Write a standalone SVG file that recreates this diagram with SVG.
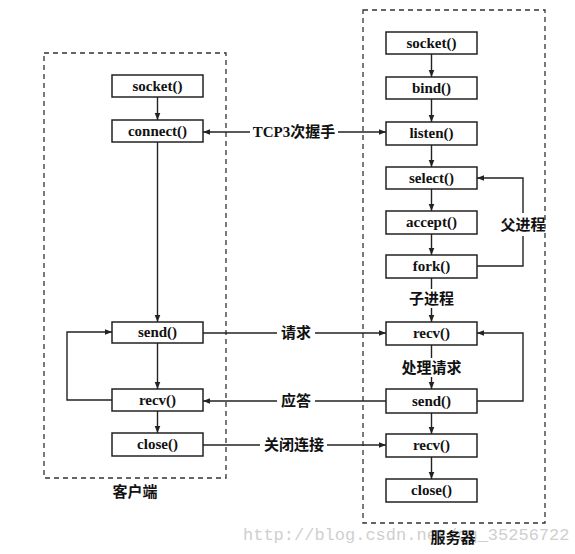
<svg xmlns="http://www.w3.org/2000/svg" width="575" height="554" viewBox="0 0 575 554">
<style>
.frame{fill:none;stroke:#333;stroke-width:1.3;stroke-dasharray:5 4}
.box{fill:#fff;stroke:#222;stroke-width:1.5}
.lbl{font-family:"Liberation Serif","Noto Sans CJK SC",serif;font-size:15px;font-weight:bold;fill:#111;text-anchor:middle}
.cjk{font-family:"Liberation Serif","Noto Sans CJK SC",serif;font-size:15px;font-weight:bold;fill:#111;text-anchor:middle}
.ln{fill:none;stroke:#222;stroke-width:1.4}
.wm{font-family:"Liberation Mono",monospace;font-size:17px;fill:#cfcfcf}
</style>
<defs>
<marker id="ah" viewBox="0 0 10 10" refX="10" refY="5" markerWidth="7" markerHeight="7" orient="auto-start-reverse" markerUnits="userSpaceOnUse">
<path d="M0,1 L10,5 L0,9 z" fill="#222"/>
</marker>
</defs>
<rect width="575" height="554" fill="#fff"/>
<text class="wm" x="243" y="540">http://blog.csdn.net/qq_35256722</text>

<g id="client">
<rect class="frame" x="44" y="53" width="182" height="425"/>
<text class="cjk" x="135" y="497">客户端</text>
</g>
<g id="server">
<rect class="frame" x="363" y="10" width="182" height="513"/>
<text class="cjk" x="453" y="543">服务器</text>
</g>

<g id="connectors">
<line class="ln" x1="157.5" y1="97" x2="157.5" y2="120" marker-end="url(#ah)"/>
<line class="ln" x1="157.5" y1="142" x2="157.5" y2="322" marker-end="url(#ah)"/>
<line class="ln" x1="157.5" y1="343" x2="157.5" y2="389" marker-end="url(#ah)"/>
<line class="ln" x1="157.5" y1="411" x2="157.5" y2="433" marker-end="url(#ah)"/>
<path class="ln" d="M112,400 H67 V332 H112" marker-end="url(#ah)"/>

<line class="ln" x1="431.5" y1="54" x2="431.5" y2="77" marker-end="url(#ah)"/>
<line class="ln" x1="431.5" y1="99" x2="431.5" y2="122" marker-end="url(#ah)"/>
<line class="ln" x1="431.5" y1="145" x2="431.5" y2="167" marker-end="url(#ah)"/>
<line class="ln" x1="431.5" y1="189" x2="431.5" y2="211" marker-end="url(#ah)"/>
<line class="ln" x1="431.5" y1="234" x2="431.5" y2="255" marker-end="url(#ah)"/>
<line class="ln" x1="431.5" y1="278" x2="431.5" y2="289"/>
<line class="ln" x1="431.5" y1="308" x2="431.5" y2="322" marker-end="url(#ah)"/>
<line class="ln" x1="431.5" y1="345" x2="431.5" y2="358"/>
<line class="ln" x1="431.5" y1="377" x2="431.5" y2="389" marker-end="url(#ah)"/>
<line class="ln" x1="431.5" y1="413" x2="431.5" y2="434" marker-end="url(#ah)"/>
<line class="ln" x1="431.5" y1="457" x2="431.5" y2="479" marker-end="url(#ah)"/>

<path class="ln" d="M477,266 H523 V236"/>
<path class="ln" d="M523,213 V178 H477" marker-end="url(#ah)"/>
<path class="ln" d="M477,401 H523 V333 H477" marker-end="url(#ah)"/>

<line class="ln" x1="250" y1="132" x2="203" y2="132" marker-end="url(#ah)"/>
<line class="ln" x1="338" y1="132" x2="386" y2="132" marker-end="url(#ah)"/>
<line class="ln" x1="203" y1="333" x2="277" y2="333"/>
<line class="ln" x1="315" y1="333" x2="386" y2="333" marker-end="url(#ah)"/>
<line class="ln" x1="386" y1="401" x2="315" y2="401"/>
<line class="ln" x1="277" y1="401" x2="203" y2="401" marker-end="url(#ah)"/>
<line class="ln" x1="203" y1="445" x2="260" y2="445"/>
<line class="ln" x1="327" y1="445" x2="386" y2="445" marker-end="url(#ah)"/>

<text class="cjk" x="294" y="137">TCP3次握手</text>
<text class="cjk" x="296" y="338">请求</text>
<text class="cjk" x="296" y="406">应答</text>
<text class="cjk" x="294" y="450">关闭连接</text>
<text class="cjk" x="523" y="230">父进程</text>
<text class="cjk" x="431.5" y="304">子进程</text>
<text class="cjk" x="431.5" y="373">处理请求</text>
</g>

<g id="c_socket"><rect class="box" x="112" y="75" width="91" height="22"/><text class="lbl" x="157.5" y="91">socket()</text></g>
<g id="c_connect"><rect class="box" x="112" y="120" width="91" height="22"/><text class="lbl" x="157.5" y="136">connect()</text></g>
<g id="c_send"><rect class="box" x="112" y="322" width="91" height="21"/><text class="lbl" x="157.5" y="337">send()</text></g>
<g id="c_recv"><rect class="box" x="112" y="389" width="91" height="22"/><text class="lbl" x="157.5" y="405">recv()</text></g>
<g id="c_close"><rect class="box" x="112" y="433" width="91" height="23"/><text class="lbl" x="157.5" y="449">close()</text></g>

<g id="s_socket"><rect class="box" x="386" y="32" width="91" height="22"/><text class="lbl" x="431.5" y="48">socket()</text></g>
<g id="s_bind"><rect class="box" x="386" y="77" width="91" height="22"/><text class="lbl" x="431.5" y="93">bind()</text></g>
<g id="s_listen"><rect class="box" x="386" y="122" width="91" height="23"/><text class="lbl" x="431.5" y="138">listen()</text></g>
<g id="s_select"><rect class="box" x="386" y="167" width="91" height="22"/><text class="lbl" x="431.5" y="183">select()</text></g>
<g id="s_accept"><rect class="box" x="386" y="211" width="91" height="23"/><text class="lbl" x="431.5" y="227">accept()</text></g>
<g id="s_fork"><rect class="box" x="386" y="255" width="91" height="23"/><text class="lbl" x="431.5" y="271">fork()</text></g>
<g id="s_recv"><rect class="box" x="386" y="322" width="91" height="23"/><text class="lbl" x="431.5" y="338">recv()</text></g>
<g id="s_send"><rect class="box" x="386" y="389" width="91" height="24"/><text class="lbl" x="431.5" y="406">send()</text></g>
<g id="s_recv2"><rect class="box" x="386" y="434" width="91" height="23"/><text class="lbl" x="431.5" y="450">recv()</text></g>
<g id="s_close"><rect class="box" x="386" y="479" width="91" height="23"/><text class="lbl" x="431.5" y="495">close()</text></g>
</svg>
